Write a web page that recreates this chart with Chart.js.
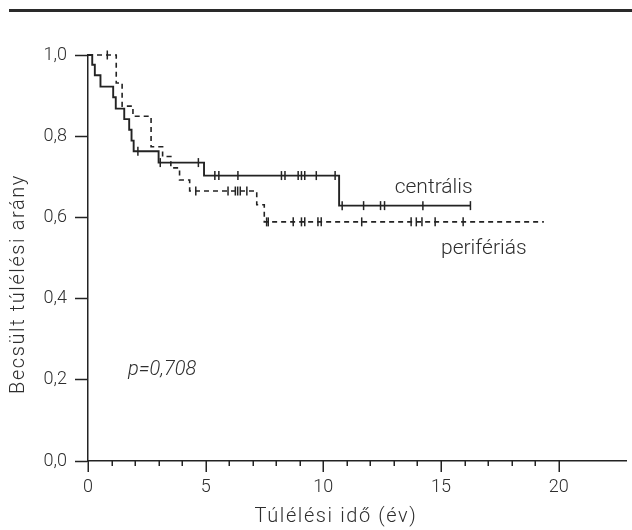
<!DOCTYPE html>
<html>
<head>
<meta charset="utf-8">
<script src="https://cdn.jsdelivr.net/npm/chart.js@4.4.1/dist/chart.umd.min.js"></script>
<style>
  html, body { margin: 0; padding: 0; background: #fff; }
  #wrap { position: relative; width: 632px; height: 530px; }
</style>
</head>
<body>
<div id="wrap"><canvas id="km" width="632" height="530"></canvas></div>
<script>
// Kaplan–Meier estimates: event times (years) and survival after each step
const centralTimes = [0, 0.18, 0.29, 0.53, 1.07, 1.18, 1.54, 1.75, 1.85, 1.94, 3.00, 4.93, 10.67, 16.25];
const centralSurv  = [1, 0.976, 0.950, 0.922, 0.896, 0.868, 0.842, 0.816, 0.789, 0.763, 0.735, 0.703, 0.629, 0.629];
const centralCensored = [2.12, 3.07, 4.69, 5.39, 5.56, 6.37, 8.22, 8.37, 8.93, 9.07, 9.21, 9.70, 10.50, 10.80, 11.71, 12.43, 12.60, 14.23, 16.25];

const periphTimes = [0, 1.20, 1.45, 1.91, 2.68, 3.17, 3.52, 3.89, 4.32, 7.17, 7.49, 19.37];
const periphSurv  = [1, 0.931, 0.874, 0.849, 0.774, 0.750, 0.722, 0.692, 0.665, 0.631, 0.589, 0.589];
const periphCensored = [0.82, 4.58, 5.95, 6.26, 6.36, 6.47, 6.75, 7.59, 7.66, 8.72, 9.07, 9.21, 9.77, 9.91, 11.63, 13.73, 13.95, 14.19, 14.75, 15.94];

const xMajorTicks = [0, 5, 10, 15, 20];
const yTickStep = 0.2;
const groupLabels = ['centrális', 'perifériás'];
const pValueText = 'p=0,708';
const xTitle = 'Túlélési idő (év)';
const yTitle = 'Becsült túlélési arány';

const INK = '#232323';
const TEXT = '#2e2e2e';
const FONT = 'Roboto';

function toPoints(times, surv) {
  return times.map((t, i) => ({ x: t, y: surv[i] }));
}
// survival level of a step curve at time t (value of the last step at or before t)
function levelAt(times, surv, t) {
  let v = surv[0];
  for (let i = 0; i < times.length; i++) if (times[i] <= t) v = surv[i];
  return v;
}
function censorPoints(cens, times, surv) {
  return cens.map(t => ({ x: t, y: levelAt(times, surv, t) }));
}

const decorations = {
  id: 'decorations',
  beforeDraw(chart) {
    const ctx = chart.ctx;
    ctx.save();
    ctx.fillStyle = '#2a2a2a';
    ctx.fillRect(9, 9, 623, 3);
    ctx.restore();
  },
  afterDraw(chart) {
    const ctx = chart.ctx;
    const xs = chart.scales.x, ys = chart.scales.y;
    const bottom = chart.chartArea.bottom;
    ctx.save();
    // x axis tick marks: long at every 5 years, short at each year
    ctx.strokeStyle = INK;
    ctx.lineWidth = 1.5;
    ctx.beginPath();
    for (let v = 0; v <= 20; v++) {
      const px = Math.round(xs.getPixelForValue(v)) + 0.25;
      const len = xMajorTicks.includes(v) ? 11 : 5;
      ctx.moveTo(px, bottom);
      ctx.lineTo(px, bottom + len);
    }
    ctx.stroke();

    // group labels and p value
    ctx.fillStyle = TEXT;
    ctx.font = '300 21px ' + FONT;
    ctx.textBaseline = 'alphabetic';
    ctx.textAlign = 'left';
    ctx.fillText(groupLabels[0], xs.getPixelForValue(13.03), ys.getPixelForValue(0.66));
    ctx.fillText(groupLabels[1], xs.getPixelForValue(15.0), ys.getPixelForValue(0.51));
    ctx.font = 'italic 300 20px ' + FONT;
    ctx.fillText(pValueText, xs.getPixelForValue(1.7), ys.getPixelForValue(0.212));

    // axis titles
    ctx.font = '300 20px ' + FONT;
    if ('letterSpacing' in ctx) ctx.letterSpacing = '1.6px';
    ctx.textAlign = 'center';
    ctx.textBaseline = 'middle';
    ctx.fillText(xTitle, 336, 517);
    ctx.translate(19, 284);
    ctx.rotate(-Math.PI / 2);
    ctx.fillText(yTitle, 0, 0);
    ctx.restore();
  }
};

const censorStyle = {
  showLine: false,
  pointStyle: 'line',
  rotation: 90,
  pointRadius: 4.5,
  pointHoverRadius: 4.5,
  pointBorderWidth: 1.5,
  borderColor: INK,
  backgroundColor: INK,
  clip: false
};

new Chart(document.getElementById('km'), {
  type: 'line',
  data: {
    datasets: [
      {
        label: groupLabels[0],
        data: toPoints(centralTimes, centralSurv),
        stepped: 'before',
        borderColor: INK,
        borderWidth: 1.9,
        pointRadius: 0,
        fill: false,
        clip: false
      },
      {
        label: groupLabels[1],
        data: toPoints(periphTimes, periphSurv),
        stepped: 'before',
        borderColor: INK,
        borderWidth: 1.6,
        borderDash: [5, 4],
        pointRadius: 0,
        fill: false,
        clip: false
      },
      Object.assign({ label: groupLabels[0] + ' cenzorált', data: censorPoints(centralCensored, centralTimes, centralSurv) }, censorStyle),
      Object.assign({ label: groupLabels[1] + ' cenzorált', data: censorPoints(periphCensored, periphTimes, periphSurv) }, censorStyle)
    ]
  },
  options: {
    responsive: false,
    animation: false,
    events: [],
    layout: { padding: { top: 55, left: 0, right: 0, bottom: 0 } },
    plugins: { legend: { display: false }, tooltip: { enabled: false } },
    scales: {
      x: {
        type: 'linear',
        min: 0,
        max: 22.86,
        afterFit(scale) { scale.height = 69; },
        afterBuildTicks(scale) { scale.ticks = xMajorTicks.map(v => ({ value: v })); },
        grid: { drawOnChartArea: false, drawTicks: false },
        border: { color: INK, width: 1.5 },
        ticks: {
          autoSkip: false,
          maxRotation: 0,
          padding: 16,
          color: TEXT,
          font: { family: FONT, size: 18, weight: '300' },
          callback: v => String(v)
        },
        title: { display: false }
      },
      y: {
        type: 'linear',
        min: 0,
        max: 1,
        afterFit(scale) { scale.width = 88; },
        grid: { drawOnChartArea: false, drawTicks: true, tickLength: 13, tickColor: INK, tickWidth: 1.5 },
        border: { color: INK, width: 1.5 },
        ticks: {
          stepSize: yTickStep,
          padding: 8,
          color: TEXT,
          font: { family: FONT, size: 18, weight: '300' },
          callback: v => v.toFixed(1).replace('.', ',')
        },
        title: { display: false }
      }
    }
  },
  plugins: [decorations]
});
</script>
</body>
</html>
